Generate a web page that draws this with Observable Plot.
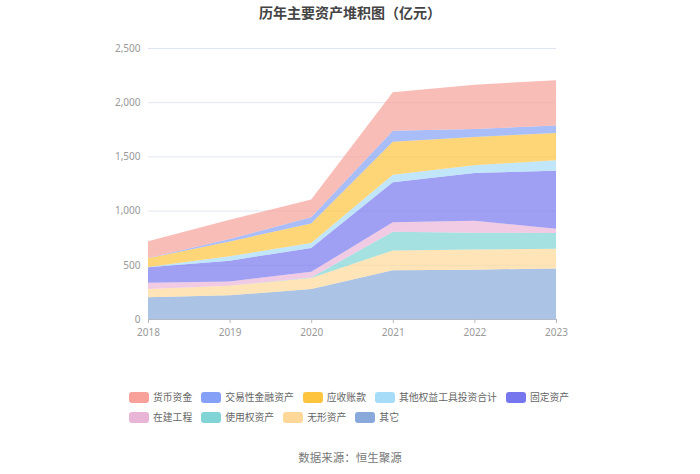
<!DOCTYPE html>
<html>
<head>
<meta charset="utf-8">
<script src="https://cdn.jsdelivr.net/npm/d3@7"></script>
<script src="https://cdn.jsdelivr.net/npm/@observablehq/plot@0.6"></script>
<style>
  html, body { margin: 0; padding: 0; background: #fff; }
  body { width: 700px; height: 474px; position: relative; overflow: hidden; font-family: "Noto Sans CJK SC", "Noto Sans", sans-serif; }
  #title { position: absolute; left: 0; top: 0; width: 700px; height: 24px; line-height: 24px; text-align: center; font-size: 14px; font-weight: bold; color: #444; }
  #chart { position: absolute; left: 0; top: 24px; }
  #legend { position: absolute; left: 129px; top: 387px; }
  .row { display: flex; align-items: center; height: 20px; }
  .item { display: flex; align-items: center; margin-right: 9px; font-size: 9.8px; color: #666; white-space: nowrap; }
  .sw { width: 20px; height: 11px; border-radius: 3px; margin-right: 4px; }
  #source { position: absolute; left: 0; top: 449px; width: 700px; text-align: center; font-size: 11.5px; color: #777; line-height: 16px; }
</style>
</head>
<body>
<div id="title">历年主要资产堆积图（亿元）</div>
<div id="chart"></div>
<div id="legend"></div>
<div id="source">数据来源：恒生聚源</div>
<script>
const years = [2018, 2019, 2020, 2021, 2022, 2023];
const seriesNames = ["货币资金", "交易性金融资产", "应收账款", "其他权益工具投资合计", "固定资产", "在建工程", "使用权资产", "无形资产", "其它"];
const seriesColors = ["#f7a19a", "#85a1f7", "#ffc43d", "#a6dcf8", "#7676ee", "#e9b5d7", "#80d4d6", "#ffd899", "#88a9d9"];
const cash       = [155, 178, 163, 354, 409, 418];
const trading    = [2, 22, 59, 101, 74, 68];
const receivable = [80, 138, 178, 305, 261, 252];
const otherEquity= [3, 40, 46, 70, 71, 96];
const fixed      = [142, 191, 221, 369, 440, 535];
const construct  = [58, 40, 52, 86, 111, 40];
const rightOfUse = [0, 0, 5, 173, 156, 144];
const intangible = [77, 89, 101, 184, 185, 182];
const others     = [200, 218, 277, 449, 455, 467];
const yTicks = [0, 500, 1000, 1500, 2000, 2500];

const seriesValues = [cash, trading, receivable, otherEquity, fixed, construct, rightOfUse, intangible, others];

// stacking order: bottom (其它) to top (货币资金)
const data = [];
for (let s = seriesNames.length - 1; s >= 0; s--) {
  years.forEach((y, i) => data.push({year: y, name: seriesNames[s], value: seriesValues[s][i]}));
}

const chart = Plot.plot({
  width: 700,
  height: 340,
  marginTop: 24,
  marginBottom: 45,
  marginLeft: 148,
  marginRight: 144,
  style: {fontFamily: "'Noto Sans', sans-serif", fontSize: "10px", background: "#fff"},
  x: {domain: [2018, 2023], ticks: years, tickFormat: d => String(d)},
  y: {domain: [0, 2500], ticks: yTicks, tickFormat: d3.format(",")},
  color: {domain: seriesNames, range: seriesColors},
  marks: [
    Plot.ruleY(yTicks.slice(1), {stroke: "#e0e6f1", strokeWidth: 1}),
    Plot.areaY(data, Plot.stackY({order: null}, {x: "year", y: "value", z: "name", fill: "name", fillOpacity: 0.7, curve: "linear"})),
    Plot.ruleY([0], {stroke: "#b5b9c2", strokeWidth: 1}),
    Plot.axisY({ticks: yTicks, tickFormat: d3.format(","), tickSize: 0, tickPadding: 8, fill: "#999", label: null}),
    Plot.axisX({ticks: years, tickFormat: d => String(d), tickSize: 4, tickPadding: 5, stroke: "#b5b9c2", fill: "#999", label: null})
  ]
});
document.getElementById("chart").appendChild(chart);

// legend
const legend = document.getElementById("legend");
const rows = [seriesNames.slice(0, 5), seriesNames.slice(5)];
rows.forEach(r => {
  const row = document.createElement("div");
  row.className = "row";
  r.forEach(n => {
    const it = document.createElement("div");
    it.className = "item";
    const sw = document.createElement("div");
    sw.className = "sw";
    sw.style.background = seriesColors[seriesNames.indexOf(n)];
    const t = document.createElement("span");
    t.textContent = n;
    it.appendChild(sw); it.appendChild(t);
    row.appendChild(it);
  });
  legend.appendChild(row);
});
</script>
</body>
</html>
